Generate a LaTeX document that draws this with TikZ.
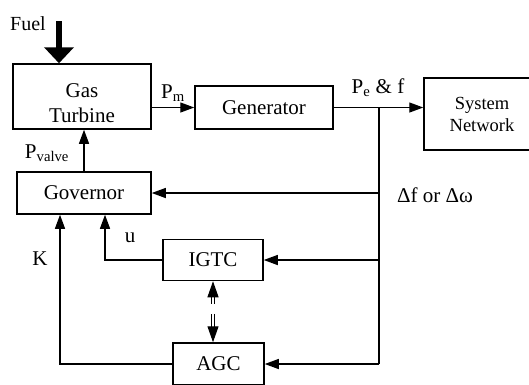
\documentclass[tikz,border=0pt]{standalone}
\usepackage{fontspec}
\setmainfont{Liberation Serif}
\usetikzlibrary{arrows.meta}
\tikzset{
  base/.style={font=\fontsize{21}{25}\selectfont, align=center, inner sep=0pt},
  block/.style={base, rectangle, draw, line width=1.5pt},
  line/.style={line width=1.3pt},
  arr/.style={line, -{Triangle[length=14pt,width=10pt]}},
  fuelarr/.style={line width=6.5pt, -{Triangle[length=16pt,width=29pt]}},
  link/.style={line width=1.1pt, double distance=1.3pt, dash pattern=on 7pt off 10pt on 20pt,
    {Triangle[length=16pt,width=11pt]}-{Triangle[length=16pt,width=11pt]}},
  lbl/.style={base},
}
\begin{document}
\begin{tikzpicture}[x=1pt,y=-1pt]
  \useasboundingbox (0,0) rectangle (529,384);
  % blocks
  \node[block,minimum width=138pt,minimum height=65pt,
    label={[lbl,yshift=-7pt]center:Gas\\Turbine}] (turbine) at (82,96.5) {};
  \node[block,minimum width=138pt,minimum height=43pt] (gen) at (264,107.5) {Generator};
  \node[block,font=\fontsize{18.5}{22}\selectfont,minimum width=116pt,minimum height=72pt] (net) at (482,114) {System\\Network};
  \node[block,minimum width=134pt,minimum height=42pt] (gov) at (84,193) {Governor};
  \node[block,minimum width=100pt,minimum height=41pt] (igtc) at (213,260) {IGTC};
  \node[block,minimum width=91pt,minimum height=42pt] (agc) at (218.5,364) {AGC};
  % fuel input
  \node[lbl,font=\fontsize{20}{24}\selectfont] (fuel) at (28,24) {Fuel};
  \coordinate (fuelin) at (59,21);
  \draw[fuelarr] (fuelin) -- (fuelin |- turbine.north);
  % forward path
  \draw[arr] (turbine.east |- gen) -- (gen.west) node[lbl,midway,above=5pt] (pm) {P\textsubscript{m}};
  \coordinate (tap) at (379,108);
  \draw[arr] (gen.east) -- (net.west |- gen);
  \node[lbl] (pef) at (378,88) {P\textsubscript{e} \& f};
  % feedback
  \draw[line] (tap) -- (tap |- agc.east);
  \draw[arr] (tap |- gov) -- (gov.east);
  \node[lbl] (dfw) at (435,195) {Δf or Δω};
  \draw[arr] (tap |- igtc.east) -- (igtc.east);
  \draw[arr] (tap |- agc.east) -- (agc.east);
  \draw[arr] (gov.north) -- (gov.north |- turbine.south);
  \node[lbl] (pvalve) at (47,153) {P\textsubscript{valve}};
  \draw[arr] (igtc.west) -| ([xshift=21pt]gov.south);
  \node[lbl] (ulbl) at (130,238) {u};
  \draw[arr] (agc.west) -| ([xshift=-24pt]gov.south);
  \node[lbl] (klbl) at (40,259) {K};
  % IGTC <-> AGC
  \draw[link] (igtc.south) -- (igtc.south |- agc.north);
\end{tikzpicture}
\end{document}
